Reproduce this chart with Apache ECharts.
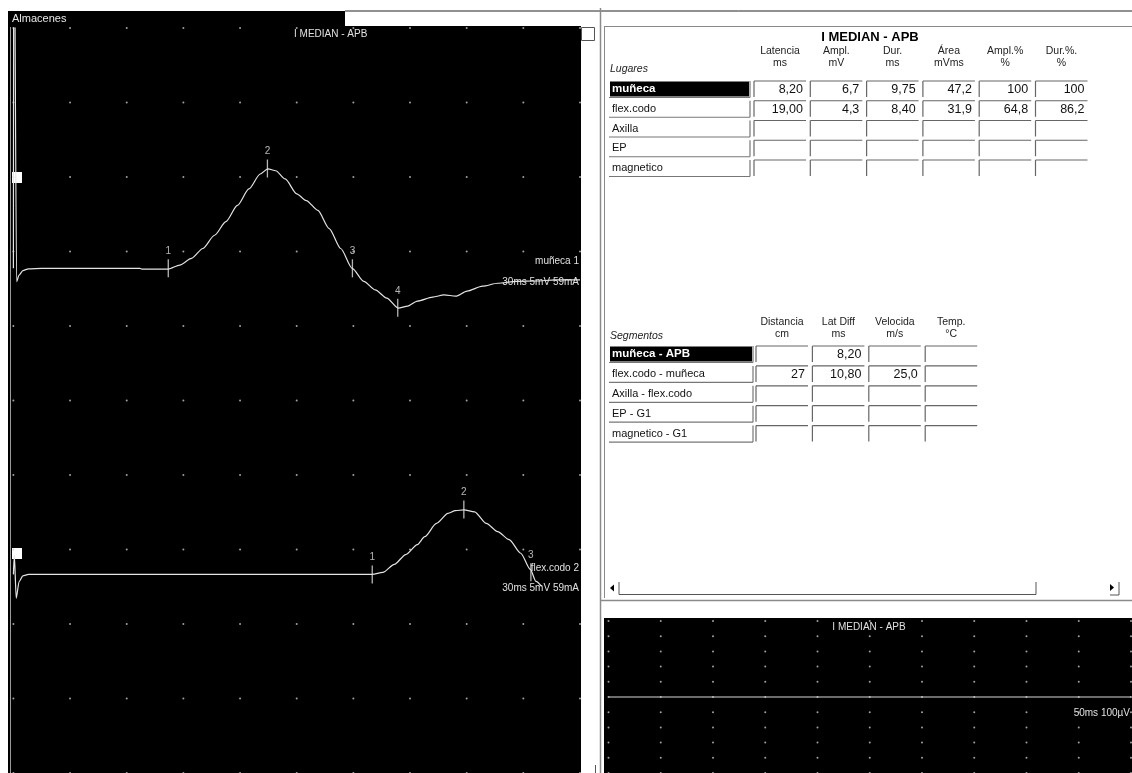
<!DOCTYPE html>
<html><head><meta charset="utf-8">
<script src="https://cdn.jsdelivr.net/npm/echarts@6/dist/echarts.min.js"></script>
<style>html,body{margin:0;padding:0;background:#fff;overflow:hidden}#c{width:1132px;height:773px}</style>
</head><body><div id="c"></div>
<script>
// ---------- DATA ----------
// left sweep: 3 ms/div, 5 mV/div
const timeTicks = [0,3,6,9,12,15,18,21,24,27,30];
const ampTicks = [0,5,10,15,20,25,30,35,40,45,50];
// trace 1 "muñeca" [ms, mV relative to baseline]
const trace1 = [[0,0],[0.02,30],[0.17,-0.9],[0.3,-0.45],[0.5,-0.15],[0.8,-0.03],[1.5,0],[6.7,0],[6.8,-0.05],[8.2,-0.05],
 [8.81,0.22],[9.43,0.67],[10.03,1.33],[10.65,2.22],[11.25,3.13],[11.86,4.22],[12.47,5.33],[13.07,6.33],[13.47,6.68],
 [13.89,6.55],[14.39,6.0],[15.0,5.0],[15.51,4.55],[16.12,3.89],[16.72,2.67],[17.33,1.33],[17.94,0],[18.55,-0.87],
 [19.16,-1.45],[19.77,-2.0],[20.38,-2.67],[20.88,-2.53],[21.39,-2.2],[22.2,-1.93],[22.8,-1.78],[23.42,-1.87],
 [24.02,-1.53],[24.84,-1.2],[25.64,-1.0],[26.65,-0.87],[27.65,-0.85],[28.69,-0.78],[30,-0.78]];
const trace1MarkerTimes = [8.20, 13.45, 17.95, 20.35];
const trace1MarkerAmps = [0, 6.7, 0, -2.65];
// trace 2 "flex.codo"
const trace2 = [[0,0],[0.05,1.3],[0.15,-1.6],[0.3,-0.5],[0.5,-0.1],[0.8,0],[19.0,0],[19.56,0.13],[20.17,0.67],
 [20.77,1.33],[21.39,2.0],[21.78,2.53],[22.4,3.42],[23.01,4.09],[23.4,4.28],[23.86,4.33],[24.42,4.2],[25.04,3.42],
 [25.64,2.87],[26.25,2.33],[26.86,1.42],[27.37,0.33],[27.67,-0.47],[27.97,-0.8]];
const trace2MarkerTimes = [19.00, 23.85, 27.40];
const trace2MarkerAmps = [0, 4.35, 0.15];
const markerNames = ['1','2','3','4'];
// lower right sweep: 5 ms/div, 100 uV/div
const timeTicks3 = [0,5,10,15,20,25,30,35,40,45,50];
const voltTicks3 = [-500,-400,-300,-200,-100,0,100,200,300,400,500];
const trace3 = [[0,0],[50,0]];
// tables
const lugares = ['muñeca','flex.codo','Axilla','EP','magnetico'];
const lugaresHeaders = [['Latencia','ms'],['Ampl.','mV'],['Dur.','ms'],['Área','mVms'],['Ampl.%','%'],['Dur.%.','%']];
const latencia = ['8,20','19,00','','',''];
const amplitud = ['6,7','4,3','','',''];
const duracion = ['9,75','8,40','','',''];
const area = ['47,2','31,9','','',''];
const amplPct = ['100','64,8','','',''];
const durPct = ['100','86,2','','',''];
const segmentos = ['muñeca - APB','flex.codo - muñeca','Axilla - flex.codo','EP - G1','magnetico - G1'];
const segmentosHeaders = [['Distancia','cm'],['Lat Diff','ms'],['Velocida','m/s'],['Temp.','°C']];
const distancia = ['','27','','',''];
const latDiff = ['8,20','10,80','','',''];
const velocidad = ['','25,0','','',''];
const temperatura = ['','','','',''];

// ---------- BUILD ----------
const FONT = '"Liberation Sans", Arial, sans-serif';
const off1 = 33.87, off2 = 13.33;
const TR = '#e4e4e4';
function dots(xs, ys){const d=[];xs.forEach(x=>ys.forEach(y=>d.push([x,y])));return d;}
const g = [];
function rect(x,y,w,h,fill,stroke,z){g.push({type:'rect',z:z||0,shape:{x,y,width:w,height:h},style:{fill:fill,stroke:stroke||null,lineWidth:1}});}
function line(x1,y1,x2,y2,stroke,w,z){g.push({type:'line',z:z||1,shape:{x1,y1,x2,y2},style:{stroke,lineWidth:w||1}});}
function text(x,y,t,opt){opt=opt||{};g.push({type:'text',z:opt.z||1,x:x,y:y,style:{text:t,fill:opt.fill||'#000',font:(opt.style||'')+' '+(opt.weight||'normal')+' '+(opt.size||11)+'px '+FONT,
  align:opt.align||'left',textAlign:opt.align||'left',verticalAlign:'middle',textVerticalAlign:'middle'}});}

// frames
rect(8,11,337,15,'#000');
text(12,18.5,'Almacenes',{fill:'#e8e8e8',size:11});
line(345,11,1132,11,'#222',1,0);
rect(8,26,573,747,'#000');
line(10.5,27,10.5,773,'#9a9a9a',1,1);
rect(581.5,27.5,13,13,'#fff','#555');
line(600.5,8,600.5,773,'#8a8a8a',1.5,1);
line(604.5,26,604.5,598,'#8a8a8a',1,1);
line(604,26.5,1132,26.5,'#8a8a8a',1,1);
line(600,600.5,1132,600.5,'#8a8a8a',1.5,1);
line(595.5,765,595.5,773,'#555',1,1);
// scrollbar
g.push({type:'polygon',z:1,shape:{points:[[610,588],[614,584.5],[614,591.5]]},style:{fill:'#000'}});
line(619,582,619,594.5,'#555',1,1); line(619,594.5,1036,594.5,'#555',1,1); line(1036,582,1036,594.5,'#555',1,1);
g.push({type:'polygon',z:1,shape:{points:[[1114,587.5],[1110,584],[1110,591]]},style:{fill:'#000'}});
line(1119,582,1119,595,'#555',1,1); line(1110,595,1119,595,'#555',1,1);
rect(604,618,528,155,'#000');

// left plot texts
text(294,34,'I MEDIAN - APB',{fill:'#e0e0e0',size:10});
rect(12,172,10,11,'#fff',null,1);
rect(12,548,10,11,'#fff',null,1);
text(579,261,'muñeca 1',{fill:'#e0e0e0',size:10,align:'right'});
text(579,282,'30ms 5mV 59mA',{fill:'#e0e0e0',size:10,align:'right'});
text(579,568,'flex.codo 2',{fill:'#e0e0e0',size:10,align:'right'});
text(579,588,'30ms 5mV 59mA',{fill:'#e0e0e0',size:10,align:'right'});
// lower right texts
text(869,627,'I MEDIAN - APB',{fill:'#e0e0e0',size:10,align:'center'});
text(1130,713,'50ms 100µV',{fill:'#e0e0e0',size:10,align:'right'});

// tables
function table(cfg){
  text(610,cfg.titleY,cfg.title,{style:'italic',size:10.5,fill:'#222'});
  cfg.headers.forEach((h,j)=>{const cx=cfg.cellX0+j*cfg.cellStep+cfg.cellW/2;
    text(cx,cfg.h1Y,h[0],{align:'center',size:10.5,fill:'#222'});
    text(cx,cfg.h2Y,h[1],{align:'center',size:10.5,fill:'#222'});});
  cfg.rows.forEach((r,i)=>{const yc=cfg.rowY0+i*cfg.rowStep;
    const lx=609, lw=cfg.labelW;
    if(i===0){rect(lx+1,yc-7.5,lw-2,15,'#000',null,1);text(lx+3,yc,r,{fill:'#fff',weight:'bold',size:11.5,z:2});}
    else text(lx+3,yc,r,{size:11,fill:'#111'});
    line(lx,yc+8.5,lx+lw,yc+8.5,'#777',1.2,1); line(lx+lw,yc-8,lx+lw,yc+8.5,'#777',1.2,1);
    cfg.cols.forEach((col,j)=>{const cx=cfg.cellX0+j*cfg.cellStep;
      line(cx,yc-8,cx+cfg.cellW,yc-8,'#666',1.2,1); line(cx,yc-8,cx,yc+8,'#666',1.2,1);
      if(col[i]!=='') text(cx+cfg.cellW-3,yc+0.5,col[i],{align:'right',size:12.5,fill:'#111'});});
  });
}
text(870,37,'I MEDIAN - APB',{align:'center',weight:'bold',size:13,fill:'#000'});
table({title:'Lugares',titleY:69,headers:lugaresHeaders,h1Y:51,h2Y:63,rows:lugares,rowY0:89,rowStep:19.75,labelW:141,
  cellX0:754,cellStep:56.3,cellW:52,cols:[latencia,amplitud,duracion,area,amplPct,durPct]});
table({title:'Segmentos',titleY:336,headers:segmentosHeaders,h1Y:322,h2Y:334,rows:segmentos,rowY0:354,rowStep:19.9,labelW:144,
  cellX0:756,cellStep:56.4,cellW:52,cols:[distancia,latDiff,velocidad,temperatura]});

const chart = echarts.init(document.getElementById('c'));
const mk = (ts,as,off)=>ts.map((t,i)=>({value:[t,as[i]+off],name:markerNames[i]}));
chart.setOption({
  animation:false,
  backgroundColor:'#fff',
  graphic:{elements:g},
  grid:[{left:13.4,top:28,width:566.6,height:750},{left:608.5,top:621,width:522.5,height:158}],
  xAxis:[{type:'value',gridIndex:0,min:0,max:30,interval:3,show:false},
         {type:'value',gridIndex:1,min:0,max:50,interval:5,show:false}],
  yAxis:[{type:'value',gridIndex:0,min:0,max:50,interval:5,show:false},
         {type:'value',gridIndex:1,min:-500,max:500,interval:100,show:false}],
  series:[
    {type:'scatter',xAxisIndex:0,yAxisIndex:0,data:dots(timeTicks,ampTicks),symbolSize:2,itemStyle:{color:'#c8c8c8'},silent:true,clip:false},
    {type:'scatter',xAxisIndex:1,yAxisIndex:1,data:dots(timeTicks3,voltTicks3),symbolSize:2,itemStyle:{color:'#c8c8c8'},silent:true,clip:false},
    {type:'line',xAxisIndex:0,yAxisIndex:0,data:trace1.map(p=>[p[0],p[1]+off1]),showSymbol:false,symbol:'none',smooth:0.25,smoothMonotone:'x',
      lineStyle:{color:TR,width:1.2},silent:true},
    {type:'line',xAxisIndex:0,yAxisIndex:0,data:trace2.map(p=>[p[0],p[1]+off2]),showSymbol:false,symbol:'none',smooth:0.25,smoothMonotone:'x',
      lineStyle:{color:TR,width:1.2},silent:true},
    {type:'scatter',xAxisIndex:0,yAxisIndex:0,data:mk(trace1MarkerTimes,trace1MarkerAmps,off1),symbol:'rect',symbolSize:[1.3,18],
      itemStyle:{color:TR},label:{show:true,position:'top',distance:3,formatter:'{b}',color:'#e0e0e0',fontSize:10,fontFamily:FONT},silent:true},
    {type:'scatter',xAxisIndex:0,yAxisIndex:0,data:mk(trace2MarkerTimes,trace2MarkerAmps,off2),symbol:'rect',symbolSize:[1.3,18],
      itemStyle:{color:TR},label:{show:true,position:'top',distance:3,formatter:'{b}',color:'#e0e0e0',fontSize:10,fontFamily:FONT},silent:true},
    {type:'line',xAxisIndex:1,yAxisIndex:1,data:trace3,showSymbol:false,symbol:'none',lineStyle:{color:'#d8d8d8',width:1.2},silent:true}
  ]
});
</script></body></html>
